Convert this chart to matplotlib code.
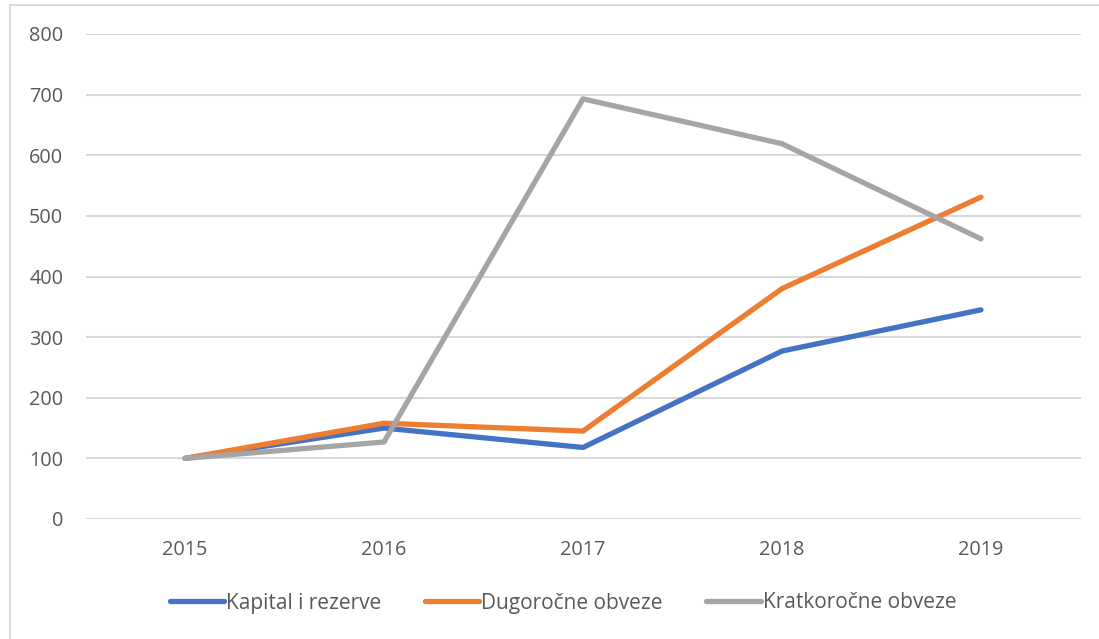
import matplotlib.pyplot as plt
from matplotlib.lines import Line2D

years = ["2015", "2016", "2017", "2018", "2019"]
kapital = [100, 150, 118, 277, 345]
dugorocne = [100, 158, 145, 380, 531]
kratkorocne = [100, 127, 693, 619, 462]
y_ticks = list(range(0, 801, 100))

color_map = {
    "Kapital i rezerve": "#4472C4",
    "Dugoročne obveze": "#ED7D31",
    "Kratkoročne obveze": "#A5A5A5",
}

plt.rcParams['font.family'] = ['Open Sans', 'DejaVu Sans']

W, H = 1099, 639
fig = plt.figure(figsize=(W / 100, H / 100), dpi=100)
ax = fig.add_axes([85.5 / W, 1 - 519 / H, 995 / W, 485 / H])

x = list(range(len(years)))
series = [("Kapital i rezerve", kapital),
          ("Dugoročne obveze", dugorocne),
          ("Kratkoročne obveze", kratkorocne)]
for name, vals in series:
    ax.plot(x, vals, color=color_map[name], linewidth=3.8,
            solid_capstyle='round', solid_joinstyle='round', label=name)

ax.set_xlim(-0.5, len(years) - 0.5)
ax.set_ylim(0, 800)
ax.set_yticks(y_ticks, [str(t) for t in y_ticks])
ax.set_xticks(x, years)
ax.tick_params(length=0, labelsize=14.3, colors="#595959")
ax.tick_params(axis='y', pad=16)
ax.tick_params(axis='x', pad=15)
ax.grid(axis='y', color="#d9d9d9", linewidth=1.5)
ax.set_axisbelow(True)
for s in ax.spines.values():
    s.set_visible(False)

leg = fig.legend(loc='center', bbox_to_anchor=(563 / W, 1 - 603 / H), ncol=3,
                 frameon=False, fontsize=15, handlelength=2.6,
                 handletextpad=0.1, columnspacing=2.1, labelcolor="#595959")

# chart frame (top and left edges visible)
fig.add_artist(Line2D([9.5 / W, 1.0], [1 - 5 / H, 1 - 5 / H],
                      color="#d9d9d9", linewidth=1.5,
                      transform=fig.transFigure))
fig.add_artist(Line2D([9.5 / W, 9.5 / W], [1 - 5 / H, 0],
                      color="#d9d9d9", linewidth=1.5,
                      transform=fig.transFigure))

fig.savefig("out.png", dpi=100)
